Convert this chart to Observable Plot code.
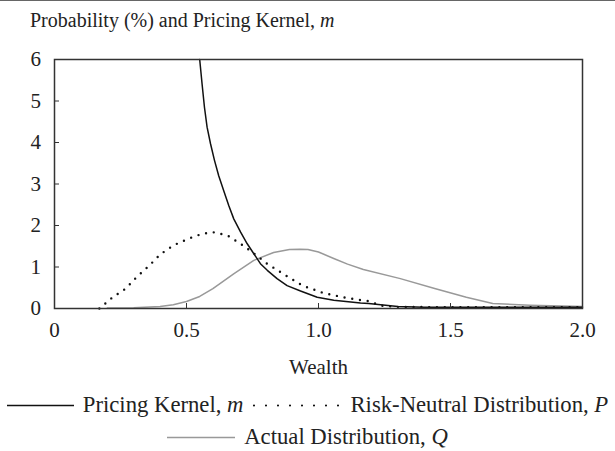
<!DOCTYPE html>
<html><head><meta charset="utf-8">
<script src="https://cdn.jsdelivr.net/npm/d3@7"></script>
<script src="https://cdn.jsdelivr.net/npm/@observablehq/plot@0.6"></script>
<style>
body{margin:0;background:#fff;font-family:"Liberation Serif",serif;color:#222;}
#wrap{position:relative;width:615px;height:451px;overflow:hidden;background:#fff;}
#rule{position:absolute;left:0;top:0;width:615px;height:0;border-top:1.5px solid #666;}
#title{position:absolute;left:30px;top:9px;font-size:20px;line-height:22px;white-space:nowrap;color:#222;}
#chart{position:absolute;left:0;top:40px;}
.legrow{position:absolute;left:0;width:615px;display:flex;justify-content:center;align-items:center;font-size:22.7px;line-height:26px;white-space:nowrap;color:#222;}
.legrow svg{display:block;}
.item{display:flex;align-items:center;}
</style></head>
<body>
<div id="wrap">
  <div id="rule"></div>
  <div id="title">Probability (%) and Pricing Kernel, <i>m</i></div>
  <div id="chart"></div>
  <div class="legrow" id="leg1" style="top:392px"></div>
  <div class="legrow" id="leg2" style="top:424px"></div>
</div>
<script>
// Pricing kernel m
const kernelW = [0.550,0.559,0.568,0.578,0.591,0.606,0.622,0.641,0.660,0.679,0.705,0.730,0.755,0.780,0.806,0.843,0.881,0.932,0.995,1.058,1.159,1.19,1.30,1.40,1.60,2.00];
const kernelV = [6.00,5.41,4.85,4.37,3.97,3.57,3.20,2.84,2.48,2.16,1.84,1.56,1.32,1.08,0.92,0.72,0.55,0.42,0.27,0.20,0.13,0.12,0.05,0.03,0.03,0.03];
// Risk-neutral distribution P
const rnW = [0.17,0.22,0.27,0.31,0.36,0.40,0.45,0.51,0.56,0.60,0.655,0.705,0.755,0.805,0.87,0.94,1.02,1.095,1.16,1.19,1.235,1.30,1.50,1.75,2.00];
const rnV = [0.00,0.27,0.48,0.75,1.04,1.30,1.52,1.69,1.80,1.84,1.76,1.56,1.33,1.08,0.82,0.55,0.37,0.27,0.20,0.18,0.07,0.04,0.03,0.03,0.03];
// Actual distribution Q
const actW = [0.20,0.30,0.40,0.45,0.50,0.55,0.60,0.68,0.755,0.83,0.89,0.93,0.96,1.00,1.06,1.11,1.17,1.31,1.44,1.56,1.66,1.80,2.00];
const actV = [0.01,0.02,0.05,0.09,0.17,0.29,0.48,0.84,1.16,1.35,1.42,1.43,1.42,1.36,1.20,1.07,0.94,0.72,0.48,0.27,0.12,0.08,0.05];
// Ticks
const xTicks = [0, 0.5, 1, 1.5, 2];
const xTickLabels = ["0", "0.5", "1.0", "1.5", "2.0"];
const yTicks = [0, 1, 2, 3, 4, 5, 6];
const yTickLabels = ["0", "1", "2", "3", "4", "5", "6"];
const seriesNames = ["Pricing Kernel, ", "Risk-Neutral Distribution, ", "Actual Distribution, "];
const seriesSymbols = ["m", "P", "Q"];

const kernel = kernelW.map((w, i) => ({w, v: kernelV[i]}));
const rn = rnW.map((w, i) => ({w, v: rnV[i]}));
const act = actW.map((w, i) => ({w, v: actV[i]}));

const chart = Plot.plot({
  width: 615, height: 340,
  marginTop: 19, marginLeft: 54, marginRight: 33, marginBottom: 72,
  style: {fontFamily: '"Liberation Serif", serif', fontSize: "21px", color: "#222", background: "transparent", overflow: "visible"},
  x: {domain: [0, 2]},
  y: {domain: [0, 6]},
  marks: [
    Plot.line(act, {x: "w", y: "v", stroke: "#999", strokeWidth: 1.5}),
    Plot.line(rn, {x: "w", y: "v", stroke: "#111", strokeWidth: 2.4, strokeDasharray: "0,7.8", strokeLinecap: "round"}),
    Plot.line(kernel, {x: "w", y: "v", stroke: "#111", strokeWidth: 1.5}),
    Plot.frame({stroke: "#333", strokeWidth: 1.5}),
    Plot.axisX({ticks: xTicks, tickFormat: d => xTickLabels[xTicks.indexOf(d)], tickSize: -5, tickPadding: 19, stroke: "#333",
      label: "Wealth", labelAnchor: "center", labelOffset: 65, labelArrow: "none"}),
    Plot.axisY({ticks: yTicks, tickFormat: d => yTickLabels[yTicks.indexOf(d)], tickSize: -5, tickPadding: 18.5, stroke: "#333", label: null})
  ]
});
document.getElementById("chart").appendChild(chart);

function swatch(kind, w) {
  const ns = "http://www.w3.org/2000/svg";
  const s = document.createElementNS(ns, "svg");
  s.setAttribute("width", w); s.setAttribute("height", 20);
  const l = document.createElementNS(ns, "line");
  l.setAttribute("x1", kind === "dot" ? 2 : 0); l.setAttribute("x2", w);
  l.setAttribute("y1", 10.5); l.setAttribute("y2", 10.5);
  if (kind === "solid") { l.setAttribute("stroke", "#111"); l.setAttribute("stroke-width", 1.5); }
  if (kind === "gray") { l.setAttribute("stroke", "#999"); l.setAttribute("stroke-width", 1.5); }
  if (kind === "dot") { l.setAttribute("stroke", "#111"); l.setAttribute("stroke-width", 2.2); l.setAttribute("stroke-dasharray", "0,12"); l.setAttribute("stroke-linecap", "round"); }
  s.appendChild(l);
  return s;
}
function item(kind, w, i, gapBefore) {
  const d = document.createElement("div");
  d.className = "item";
  if (gapBefore) d.style.marginLeft = gapBefore + "px";
  d.appendChild(swatch(kind, w));
  const t = document.createElement("span");
  t.style.marginLeft = "9px";
  t.innerHTML = seriesNames[i] + "<i>" + seriesSymbols[i] + "</i>";
  d.appendChild(t);
  return d;
}
const leg1 = document.getElementById("leg1");
leg1.appendChild(item("solid", 67, 0, 0));
leg1.appendChild(item("dot", 89, 1, 9));
document.getElementById("leg2").appendChild(item("gray", 68, 2, 0));
</script>
</body></html>
